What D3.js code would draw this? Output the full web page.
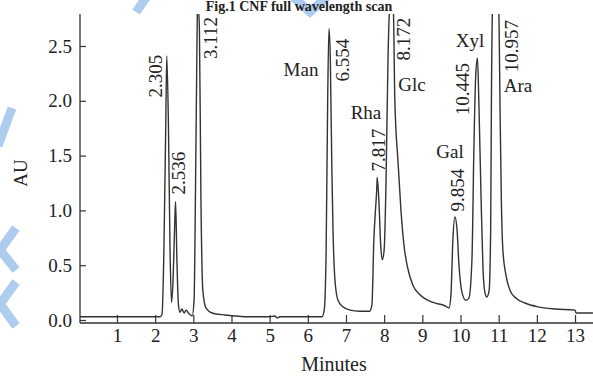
<!DOCTYPE html>
<html>
<head>
<meta charset="utf-8">
<script src="https://cdn.jsdelivr.net/npm/d3@7"></script>
<style>
  html, body { margin: 0; padding: 0; background: #ffffff; }
  svg { display: block; }
  text { font-family: "Liberation Serif", "Times New Roman", serif; fill: #222; }
</style>
</head>
<body>
<svg id="chart" width="593" height="376"></svg>
<script>
// ---------------- DATA ----------------
const chartTitle = "Fig.1 CNF full wavelength scan";
const xAxisTitle = "Minutes";
const yAxisTitle = "AU";
const xTickValues = [1, 2, 3, 4, 5, 6, 7, 8, 9, 10, 11, 12, 13];
const yTickValues = [0, 0.5, 1.0, 1.5, 2.0, 2.5];

// chromatogram trace (retention time in minutes, absorbance AU)
const traceTime = [
  0.03, 2.13, 2.18, 2.23, 2.28, 2.305, 2.35, 2.39, 2.43, 2.47, 2.52, 2.536, 2.57, 2.61, 2.65,
  2.70, 2.76, 2.81, 2.89, 2.97, 3.02, 3.06, 3.10, 3.112, 3.16, 3.20, 3.25, 3.33, 3.49, 3.83,
  4.49, 5.00, 5.14, 5.19, 5.27, 6.37, 6.43, 6.48, 6.52, 6.554, 6.59, 6.63, 6.66, 6.71, 6.79,
  6.92, 7.10, 7.36, 7.62, 7.68, 7.73, 7.77, 7.81, 7.817, 7.86, 7.91, 7.95, 8.00, 8.05, 8.10,
  8.14, 8.172, 8.24, 8.28, 8.36, 8.44, 8.52, 8.62, 8.75, 8.94, 9.28, 9.59, 9.70, 9.75, 9.80,
  9.854, 9.91, 9.96, 10.04, 10.14, 10.22, 10.30, 10.35, 10.40, 10.445, 10.48, 10.54, 10.59, 10.64, 10.69,
  10.75, 10.79, 10.81, 10.84, 10.957, 11.00, 11.04, 11.07, 11.11, 11.19, 11.30, 11.45, 11.69, 12.03, 12.48,
  13.00, 13.03, 13.47
];
const traceAU = [
  0.03, 0.03, 0.05, 0.64, 1.83, 2.41, 1.74, 0.64, 0.16, 0.37, 0.96, 1.08, 0.55, 0.14, 0.07,
  0.10, 0.064, 0.09, 0.055, 0.037, 0.18, 1.28, 2.65, 2.95, 2.65, 1.10, 0.27, 0.11, 0.064, 0.046,
  0.03, 0.03, 0.037, 0.018, 0.03, 0.03, 0.09, 0.64, 2.00, 2.66, 2.37, 1.37, 0.82, 0.37, 0.18,
  0.12, 0.09, 0.08, 0.08, 0.14, 0.73, 0.99, 1.23, 1.30, 1.10, 0.68, 0.55, 0.64, 1.28, 2.37,
  2.85, 3.00, 2.85, 2.00, 1.46, 1.00, 0.68, 0.47, 0.32, 0.23, 0.16, 0.13, 0.11, 0.23, 0.73,
  0.94, 0.82, 0.50, 0.25, 0.18, 0.20, 0.55, 1.55, 2.24, 2.39, 2.00, 1.10, 0.46, 0.25, 0.21,
  0.27, 0.82, 2.00, 2.85, 2.95, 2.85, 1.83, 1.10, 0.64, 0.41, 0.27, 0.20, 0.155, 0.12, 0.10,
  0.09, 0.064, 0.064
];

// peaks: retention time labels and sugar names
const peakTimes = [2.305, 2.536, 3.112, 6.554, 7.817, 8.172, 9.854, 10.445, 10.957];
const peakNames = ["", "", "", "Man", "Rha", "Glc", "Gal", "Xyl", "Ara"];

// ---------------- LAYOUT ----------------
const svg = d3.select("#chart");
const W = 593, H = 376;
const plotTop = 14, axisY = 323, axisX = 80;

const x = d3.scaleLinear().domain([0, 13.5]).range([78.8, 78.8 + 13.5 * 38.17]);
const y = d3.scaleLinear().domain([0, 2.5]).range([320, 46]);

// label placement (pixel offsets, layout only)
const numLabelLayout = [
  {dx: -11, cy: 76}, {dx: 3.5, cy: 173}, {dx: 13, cy: 38},
  {dx: 14, cy: 60}, {dx: 2, cy: 150}, {dx: 13, cy: 39},
  {dx: 3, cy: 190}, {dx: -14, cy: 89}, {dx: 15, cy: 46}
];
const nameLabelLayout = [
  null, null, null,
  {x: 301, y: 76}, {x: 366, y: 119}, {x: 412, y: 91},
  {x: 450, y: 158}, {x: 470, y: 47}, {x: 518, y: 92}
];

// watermark chevrons (decorative, light blue)
const wm = svg.append("g").attr("fill", "none").attr("stroke", "#aecdee")
  .attr("stroke-width", 9).attr("stroke-linecap", "butt");
wm.append("path").attr("d", "M150,-8 L136,12");
wm.append("path").attr("d", "M290,-6 L310,12 L330,-6");
wm.append("path").attr("d", "M12,108 L-2,146");
wm.append("path").attr("d", "M16,228 L0,250 L16,270");
wm.append("path").attr("d", "M16,282 L0,304 L16,326");

// title (sits in the thin strip above the plot)
svg.append("text").attr("x", 299).attr("y", 11)
  .attr("text-anchor", "middle").attr("font-weight", "bold").attr("font-size", 14)
  .text(chartTitle);

// clip for the trace
svg.append("clipPath").attr("id", "plotClip")
  .append("rect").attr("x", axisX).attr("y", plotTop).attr("width", W - axisX).attr("height", axisY - plotTop);

// x axis
const xAxis = d3.axisBottom(x).tickValues(xTickValues).tickSizeInner(-8).tickSizeOuter(0)
  .tickPadding(6).tickFormat(d3.format("d"));
const gx = svg.append("g").attr("transform", `translate(0,${axisY})`).call(xAxis);
gx.select(".domain").remove();
gx.selectAll("line").attr("stroke", "#333").attr("stroke-width", 1.2);
gx.selectAll("text").attr("font-size", 19).attr("font-family", "Liberation Serif").attr("fill", "#222");
svg.append("line").attr("x1", axisX).attr("x2", W).attr("y1", axisY).attr("y2", axisY)
  .attr("stroke", "#333").attr("stroke-width", 1.3);

// y axis
const yAxis = d3.axisLeft(y).tickValues(yTickValues).tickSizeInner(-6).tickSizeOuter(0)
  .tickPadding(8).tickFormat(d3.format(".1f"));
const gy = svg.append("g").attr("transform", `translate(${axisX},0)`).call(yAxis);
gy.select(".domain").remove();
gy.selectAll("line").attr("stroke", "#333").attr("stroke-width", 1.2);
gy.selectAll("text").attr("font-size", 19).attr("font-family", "Liberation Serif").attr("fill", "#222");
svg.append("line").attr("x1", axisX).attr("x2", axisX).attr("y1", plotTop).attr("y2", axisY)
  .attr("stroke", "#333").attr("stroke-width", 1.3);

// axis titles
svg.append("text").attr("x", 334).attr("y", 371).attr("text-anchor", "middle")
  .attr("font-size", 20).text(xAxisTitle);
svg.append("text").attr("transform", "translate(27,173) rotate(-90)").attr("text-anchor", "middle")
  .attr("font-size", 19).text(yAxisTitle);

// trace
const pts = traceTime.map((t, i) => [t, traceAU[i]]);
const line = d3.line().x(d => x(d[0])).y(d => y(d[1])).curve(d3.curveMonotoneX);
svg.append("path").datum(pts).attr("clip-path", "url(#plotClip)")
  .attr("fill", "none").attr("stroke", "#333").attr("stroke-width", 1.4).attr("d", line);

// retention time labels (vertical)
peakTimes.forEach((t, i) => {
  const L = numLabelLayout[i];
  svg.append("text")
    .attr("transform", `translate(${x(t) + L.dx + 6},${L.cy}) rotate(-90)`)
    .attr("text-anchor", "middle").attr("font-size", 19)
    .text(d3.format(".3f")(t));
});
// sugar names
peakNames.forEach((n, i) => {
  if (!n) return;
  const L = nameLabelLayout[i];
  svg.append("text").attr("x", L.x).attr("y", L.y).attr("text-anchor", "middle")
    .attr("font-size", 19).text(n);
});
</script>
</body>
</html>
